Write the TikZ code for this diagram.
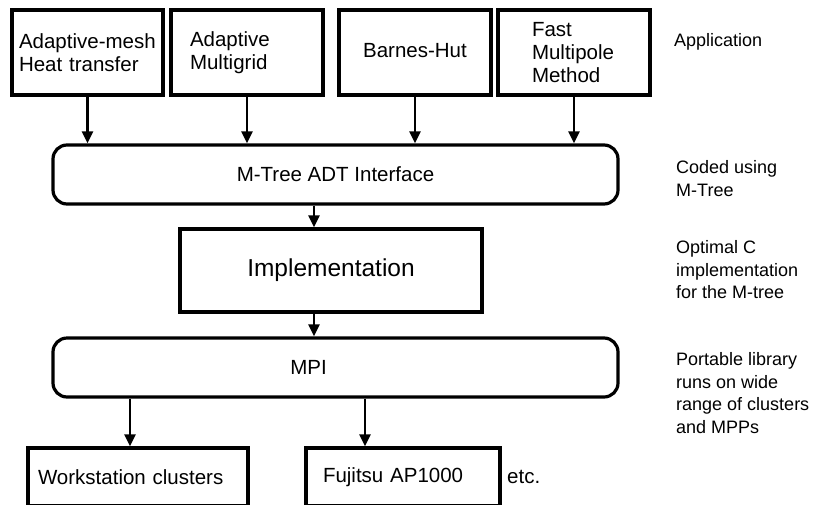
\documentclass[tikz,border=0pt]{standalone}
\usepackage{fontspec}
\setmainfont{Liberation Sans}
\usetikzlibrary{arrows.meta}
\begin{document}
\begin{tikzpicture}[x=1pt,y=-1pt,
  box/.style={draw, line width=3.2pt, inner ysep=0pt, font=\fontsize{20.5}{23}\selectfont},
  appbox/.style={box, minimum height=85pt, align=left},
  rbox/.style={draw, line width=3.2pt, rounded corners=14pt, minimum width=565pt, minimum height=59pt, font=\fontsize{20.5}{23}\selectfont},
  hwbox/.style={box, minimum height=58pt, align=left},
  arr/.style={line width=2.4pt, -{Triangle[length=12pt,width=11pt]}},
  side/.style={font=\fontsize{18}{22.5}\selectfont, align=left, inner sep=0pt, anchor=west}
]
\useasboundingbox (0,0) rectangle (816,504);
\clip (0,0) rectangle (816,504);

% application boxes
\node[appbox, text width=137pt, inner xsep=7pt] (app1) at (87.5,52.5) {Adaptive-mesh\\Heat transfer};
\node[appbox, text width=114pt, inner xsep=19pt] (app2) at (247,52.5) {Adaptive\\Multigrid};
\node[box, minimum height=85pt, minimum width=152pt, align=center] (app3) at (415,52.5) {\raisebox{5pt}{Barnes-Hut}};
\node[appbox, text width=84pt, inner xsep=34pt] (app4) at (574,52.5) {Fast\\Multipole\\Method};

% M-Tree interface
\node[rbox] (mtree) at (335.5,174.5) {M-Tree ADT Interface};

% implementation
\node[box, minimum width=302pt, minimum height=83pt, font=\fontsize{24.5}{29}\selectfont] (impl) at (331,270.5) {Implementation};

% MPI
\node[rbox, label={[xshift=-27pt, font=\fontsize{20.5}{23}\selectfont]center:MPI}] (mpi) at (335.5,367.5) {};

% hardware boxes
\node[hwbox, text width=200pt, inner xsep=10pt] (ws) at (138,477) {Workstation clusters};
\node[hwbox, text width=160pt, inner xsep=17pt] (fj) at (403,477) {Fujitsu AP1000};
\node[anchor=west, inner sep=0pt, font=\fontsize{20.5}{23}\selectfont] (etc) at (507,477) {etc.};

% arrows
\foreach \a in {app1,app2,app3,app4}
  \draw[arr] (\a.south) -- (\a.south |- mtree.north);
\draw[arr] ([xshift=-17pt]impl.north |- mtree.south) -- ([xshift=-17pt]impl.north);
\draw[arr] ([xshift=-17pt]impl.south) -- ([xshift=-17pt]impl.south |- mpi.north);
\draw[arr] ([xshift=-8pt]ws.north |- mpi.south) -- ([xshift=-8pt]ws.north);
\draw[arr] ([xshift=-38pt]fj.north |- mpi.south) -- ([xshift=-38pt]fj.north);

% side labels
\node[side] (lapp) at (674,42) {Application};
\node[side] (lcode) at (676,178.5) {Coded using\\M-Tree};
\node[side] (lopt) at (676,270) {Optimal C\\implementation\\for the M-tree};
\node[side] (lport) at (676,393) {Portable library\\runs on wide\\range of clusters\\and MPPs};
\end{tikzpicture}
\end{document}
